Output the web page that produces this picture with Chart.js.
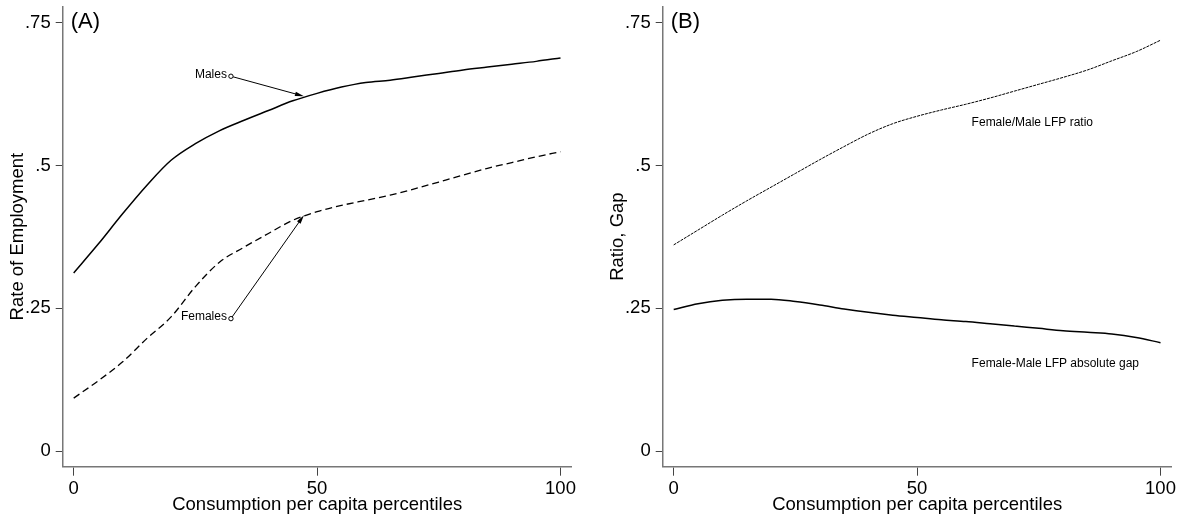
<!DOCTYPE html>
<html>
<head>
<meta charset="utf-8">
<script src="https://cdn.jsdelivr.net/npm/chart.js@4"></script>
<style>
  body { margin: 0; background: #fff; }
  #wrap { position: relative; width: 1180px; height: 518px; }
  canvas { position: absolute; top: 0; }
</style>
</head>
<body>
<div id="wrap">
  <canvas id="chartA" width="590" height="518" style="left:0"></canvas>
  <canvas id="chartB" width="580" height="518" style="left:600px"></canvas>
</div>
<script>
// percentiles of consumption per capita
var percentiles = [0, 5, 10, 15, 20, 25, 30, 35, 40, 45, 50, 55, 60, 65, 70, 75, 80, 85, 90, 95, 100];

// panel A: rate of employment
var males   = [.312, .362, .415, .465, .509, .538, .561, .579, .596, .613, .626, .637, .645, .649, .655, .661, .667, .672, .677, .682, .688];
var females = [.093, .123, .156, .197, .235, .288, .331, .357, .381, .404, .419, .430, .439, .448, .459, .471, .483, .495, .505, .515, .524];

// panel B: ratio and gap
var ratio = [.361, .387, .413, .438, .462, .486, .510, .533, .555, .573, .586, .597, .607, .618, .630, .642, .654, .667, .683, .699, .719];
var gap   = [.248, .258, .264, .266, .266, .262, .256, .249, .243, .238, .234, .230, .227, .223, .219, .215, .211, .208, .205, .199, .190];

var xTicks = [0, 50, 100];
var yTicks = [0, .25, .5, .75];
var yTickLabels = ['0', '.25', '.5', '.75'];

var FONT = '"Liberation Sans", Arial, Helvetica, sans-serif';

function pts(ys) {
    return percentiles.map(function (p, i) { return { x: p, y: ys[i] }; });
}

// draws panel letter, arrows with labels and free text
var notes = {
    id: 'notes',
    afterDatasetsDraw: function (chart, args, opts) {
        var ctx = chart.ctx, area = chart.chartArea;
        var sx = chart.scales.x, sy = chart.scales.y;
        ctx.save();
        ctx.fillStyle = '#000';
        ctx.textBaseline = 'middle';
        ctx.font = '22px ' + FONT;
        ctx.fillText(opts.panel, area.left + 8, area.top + 15);

        ctx.font = '12px ' + FONT;
        (opts.arrows || []).forEach(function (a) {
            var x0 = sx.getPixelForValue(a.from[0]), y0 = sy.getPixelForValue(a.from[1]);
            var x1 = sx.getPixelForValue(a.to[0]), y1 = sy.getPixelForValue(a.to[1]);
            var ang = Math.atan2(y1 - y0, x1 - x0);
            ctx.strokeStyle = '#000';
            ctx.lineWidth = 1;
            ctx.beginPath();
            ctx.moveTo(x0, y0);
            ctx.lineTo(x1 - 6 * Math.cos(ang), y1 - 6 * Math.sin(ang));
            ctx.stroke();
            // arrow head
            ctx.beginPath();
            ctx.moveTo(x1, y1);
            ctx.lineTo(x1 - 9 * Math.cos(ang) + 2.2 * Math.sin(ang), y1 - 9 * Math.sin(ang) - 2.2 * Math.cos(ang));
            ctx.lineTo(x1 - 9 * Math.cos(ang) - 2.2 * Math.sin(ang), y1 - 9 * Math.sin(ang) + 2.2 * Math.cos(ang));
            ctx.closePath();
            ctx.fill();
            // open circle at start
            ctx.fillStyle = '#fff';
            ctx.beginPath();
            ctx.arc(x0, y0, 2.2, 0, Math.PI * 2);
            ctx.fill();
            ctx.stroke();
            ctx.fillStyle = '#000';
            ctx.textAlign = 'right';
            ctx.fillText(a.label, x0 - 4, y0 - 2);
        });
        (opts.texts || []).forEach(function (t) {
            ctx.textAlign = 'left';
            ctx.fillText(t.label, sx.getPixelForValue(t.at[0]), sy.getPixelForValue(t.at[1]));
        });
        ctx.restore();
    }
};

function makeChart(id, datasets, yTitle, noteOpts, rightPad) {
    return new Chart(document.getElementById(id).getContext('2d'), {
        type: 'line',
        data: { datasets: datasets },
        plugins: [notes],
        options: {
            responsive: false,
            animation: false,
            devicePixelRatio: 1,
            layout: { padding: { top: 6.5, right: rightPad, left: 0, bottom: 0 } },
            plugins: {
                legend: { display: false },
                tooltip: { enabled: false },
                notes: noteOpts
            },
            elements: { point: { radius: 0 } },
            scales: {
                x: {
                    type: 'linear',
                    min: -2.26,
                    max: 102.3,
                    afterBuildTicks: function (s) { s.ticks = xTicks.map(function (v) { return { value: v }; }); },
                    afterFit: function (s) { s.height = 51.3; s.paddingLeft = 0; s.paddingRight = 0; },
                    grid: { drawOnChartArea: false, drawTicks: true, tickLength: 9, color: '#444' },
                    border: { display: true, color: '#777', width: 1.5 },
                    ticks: { color: '#000', padding: 2, maxRotation: 0, font: { family: FONT, size: 18.5 } },
                    title: {
                        display: true,
                        text: 'Consumption per capita percentiles',
                        color: '#000',
                        padding: { top: 0, bottom: 2 },
                        font: { family: FONT, size: 18.5 }
                    }
                },
                y: {
                    min: -0.027,
                    max: 0.778,
                    afterBuildTicks: function (s) { s.ticks = yTicks.map(function (v) { return { value: v }; }); },
                    afterFit: function (s) { s.width = 62.7; s.paddingTop = 0; s.paddingBottom = 0; },
                    grid: { drawOnChartArea: false, drawTicks: true, tickLength: 7, color: '#444' },
                    border: { display: true, color: '#777', width: 1.5 },
                    ticks: {
                        color: '#000',
                        padding: 5,
                        font: { family: FONT, size: 18.5 },
                        callback: function (v) { return yTickLabels[yTicks.indexOf(v)]; }
                    },
                    title: {
                        display: true,
                        text: yTitle,
                        color: '#000',
                        padding: { top: 7, bottom: 0 },
                        font: { family: FONT, size: 18.5 }
                    }
                }
            }
        }
    });
}

makeChart('chartA', [
    {
        label: 'Males',
        data: pts(males),
        borderColor: '#000',
        borderWidth: 1.5,
        cubicInterpolationMode: 'monotone'
    },
    {
        label: 'Females',
        data: pts(females),
        borderColor: '#000',
        borderWidth: 1.3,
        borderDash: [7, 4],
        cubicInterpolationMode: 'monotone'
    }
], 'Rate of Employment', {
    panel: '(A)',
    arrows: [
        { label: 'Males', from: [32.3, .656], to: [47.3, .621] },
        { label: 'Females', from: [32.3, .232], to: [47.3, .413] }
    ]
}, 18.3);

makeChart('chartB', [
    {
        label: 'Female/Male LFP ratio',
        data: pts(ratio),
        borderColor: '#000',
        borderWidth: 1,
        borderDash: [3, 1],
        cubicInterpolationMode: 'monotone'
    },
    {
        label: 'Female-Male LFP absolute gap',
        data: pts(gap),
        borderColor: '#000',
        borderWidth: 1.5,
        cubicInterpolationMode: 'monotone'
    }
], 'Ratio, Gap', {
    panel: '(B)',
    texts: [
        { label: 'Female/Male LFP ratio', at: [61.2, .574] },
        { label: 'Female-Male LFP absolute gap', at: [61.2, .154] }
    ]
}, 8.3);
</script>
</body>
</html>
